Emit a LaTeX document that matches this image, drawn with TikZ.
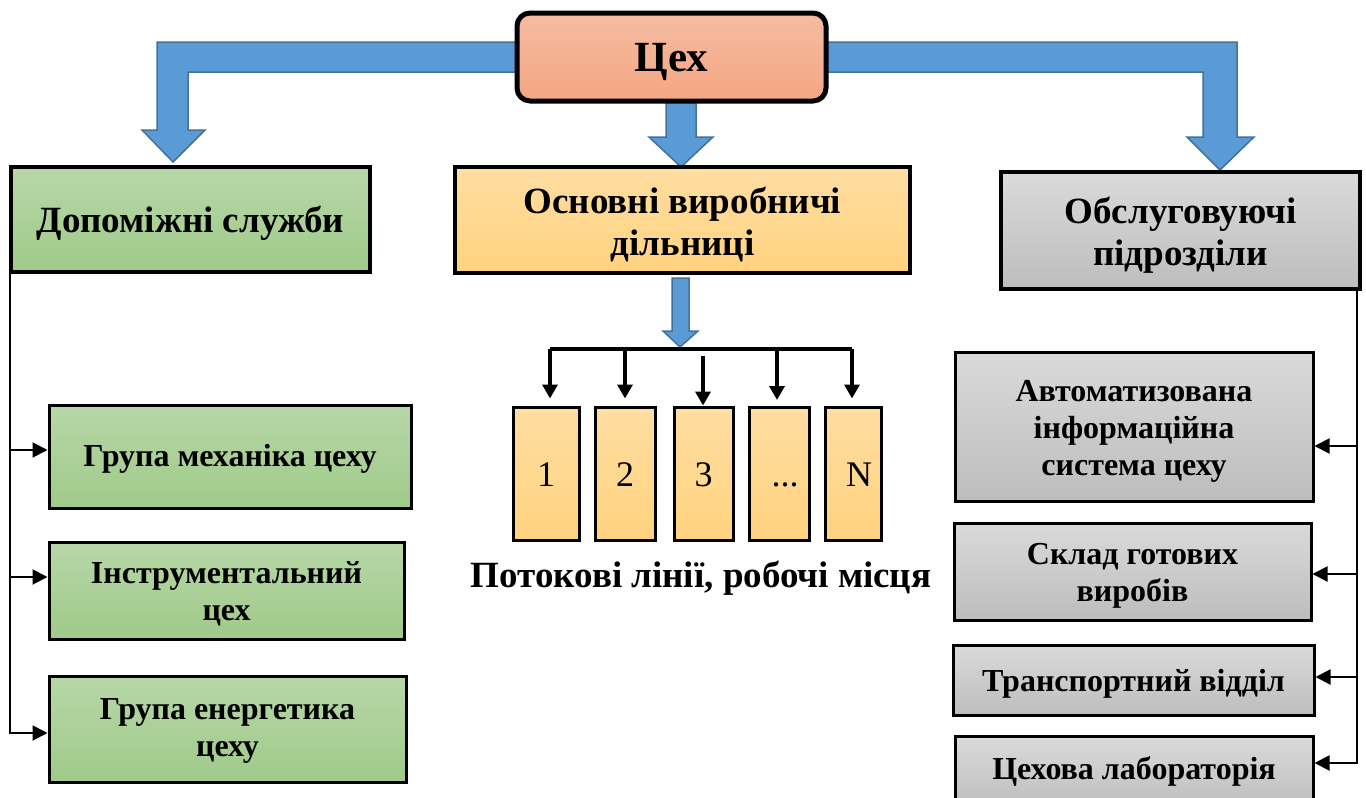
\documentclass[tikz,border=0pt]{standalone}
\usepackage{fontspec}
\setmainfont{Liberation Serif}[BoldFont={Liberation Serif Bold}]
\usetikzlibrary{arrows.meta}
\definecolor{salT}{HTML}{F5BCA2}
\definecolor{salB}{HTML}{F4A682}
\definecolor{grnT}{HTML}{B7D7A8}
\definecolor{grnB}{HTML}{9FCA89}
\definecolor{yelT}{HTML}{FFDEA2}
\definecolor{yelB}{HTML}{FFD27E}
\definecolor{gryT}{HTML}{DADADA}
\definecolor{gryB}{HTML}{BDBDBD}
\definecolor{blueF}{HTML}{5B9BD5}
\definecolor{blueE}{HTML}{41719C}
\newcommand{\dn}[2]{\raisebox{-#1}[\height][\depth]{\begin{tabular}{@{}c@{}}#2\end{tabular}}}
\tikzset{
  hdr/.style={draw, line width=4pt, align=center, inner sep=0pt,
    font=\fontsize{37}{42}\selectfont\bfseries},
  sub/.style={draw, line width=3pt, align=center, inner sep=0pt,
    font=\fontsize{32}{37}\selectfont\bfseries},
  cell/.style={draw, line width=3pt, inner sep=0pt, top color=yelT, bottom color=yelB,
    font=\fontsize{36}{40}\selectfont, minimum height=133pt, text height=25pt, text depth=0pt},
  grn/.style={top color=grnT, bottom color=grnB},
  gry/.style={top color=gryT, bottom color=gryB},
  conn/.style={line width=2pt, -{Triangle[length=15pt,width=15pt]}},
  brk/.style={line width=3.5pt},
  drop/.style={line width=3.5pt, -{Triangle[length=14pt,width=15pt]}},
  blk/.style={fill=blueF, draw=blueE, line width=1.5pt, line join=miter}
}
\begin{document}
\begin{tikzpicture}[x=1pt, y=-1pt]
\useasboundingbox (0,0) rectangle (1366,798);
\fill[white] (0,0) rectangle (1366,798);

% block arrows (drawn first, under boxes)
\draw[blk] (520,42) -- (157,42) -- (157,130) -- (142,130) -- (173,162) -- (205,130)
  -- (188,130) -- (188,72) -- (520,72) -- cycle;
\draw[blk] (823,42) -- (1237,42) -- (1237,137) -- (1254,137) -- (1220,170) -- (1187,137)
  -- (1203,137) -- (1203,72) -- (823,72) -- cycle;
\draw[blk] (666,98) -- (696,98) -- (696,137) -- (713,137) -- (681,167) -- (649,137)
  -- (666,137) -- cycle;
\draw[blk] (672,278) -- (689,278) -- (689,331) -- (698,331) -- (680,347) -- (663,331)
  -- (672,331) -- cycle;

% top box
\node[draw, line width=5pt, rounded corners=13pt, top color=salT, bottom color=salB,
  minimum width=309pt, minimum height=88pt, inner sep=0pt,
  font=\fontsize{43}{48}\selectfont\bfseries] (cex) at (671.5,57) {\dn{5pt}{Цех}};

% headers
\node[hdr, grn, minimum width=359pt, minimum height=105pt] (dop) at (190.5,219.5)
  {\dn{5pt}{Допоміжні служби}};
\node[hdr, top color=yelT, bottom color=yelB, minimum width=455pt, minimum height=106pt]
  (osn) at (682.5,220) {\dn{6pt}{Основні виробничі\\дільниці}};
\node[hdr, gry, minimum width=359pt, minimum height=117pt] (obs) at (1180.5,230.5)
  {\dn{6pt}{Обслуговуючі\\підрозділи}};

% left sub boxes
\node[sub, grn, minimum width=362pt, minimum height=103pt] (g1) at (230,456.5)
  {\dn{3pt}{Група механіка цеху}};
\node[sub, grn, minimum width=355pt, minimum height=97pt] (g2) at (226.5,590.5)
  {\dn{4pt}{Інструментальний\\цех}};
\node[sub, grn, minimum width=357pt, minimum height=106pt] (g3) at (227.5,729)
  {\dn{2pt}{Група енергетика\\цеху}};

% right sub boxes
\node[sub, gry, minimum width=358pt, minimum height=149pt] (a1) at (1134,426.5)
  {\dn{5pt}{Автоматизована\\інформаційна\\система цеху}};
\node[sub, gry, minimum width=357pt, minimum height=97pt] (a2) at (1132.5,571.5)
  {\dn{4pt}{Склад готових\\виробів}};
\node[sub, gry, minimum width=361pt, minimum height=70pt] (a3) at (1133.5,680)
  {\dn{4pt}{Транспортний відділ}};
\node[sub, gry, minimum width=358pt, minimum height=74pt]
  (a4) at (1134,773) {\dn{-1pt}{Цехова лабораторія}};

% cells
\node[cell, minimum width=66pt] (c1) at (546,473.5) {1};
\node[cell, minimum width=60pt] (c2) at (625,473.5) {2};
\node[cell, minimum width=59pt] (c3) at (703.5,473.5) {3};
\node[cell, minimum width=60pt] (c4) at (779,473.5) {\hspace*{12pt}...};
\node[cell, minimum width=56pt] (c5) at (853,473.5) {\hspace*{12pt}N};
\node[font=\fontsize{37}{42}\selectfont\bfseries, inner sep=0pt] (lbl) at (701,578)
  {Потокові лінії, робочі місця};

% bracket
\coordinate (bl) at (550,349);
\coordinate (br) at (852,349);
\draw[brk] (bl) -- (br);
\draw[drop] (bl) -- ([yshift=7pt]bl |- c1.north);
\draw[drop] (bl -| c2.north) -- ([yshift=7pt]c2.north);
\coordinate (b3) at (703,356);
\draw[drop] (b3) -- (b3 |- c3.north);
\draw[drop] (777,349) -- ([yshift=7pt]777,407);
\draw[drop] (br) -- ([yshift=7pt]br |- c5.north);

% left connectors
\coordinate (lt) at (10,273);
\coordinate (l1) at (10,450);
\coordinate (l2) at (10,577);
\coordinate (l3) at (10,733);
\draw[line width=2pt] (lt) -- (l3);
\draw[conn] (l1) -- (l1 -| g1.west);
\draw[conn] (l2) -- (l2 -| g2.west);
\draw[conn] ([xshift=-1pt]l3) -- (l3 -| g3.west);

% right connectors
\coordinate (rt) at (1357,289);
\coordinate (r1) at (1357,446);
\coordinate (r2) at (1357,574);
\coordinate (r3) at (1357,677);
\coordinate (r4) at (1357,763);
\draw[line width=2pt] (rt) -- (r4);
\draw[conn] (r1) -- (r1 -| a1.east);
\draw[conn] (r2) -- (r2 -| a2.east);
\draw[conn] (r3) -- (r3 -| a3.east);
\draw[conn] ([xshift=1pt]r4) -- (r4 -| a4.east);
\end{tikzpicture}
\end{document}
